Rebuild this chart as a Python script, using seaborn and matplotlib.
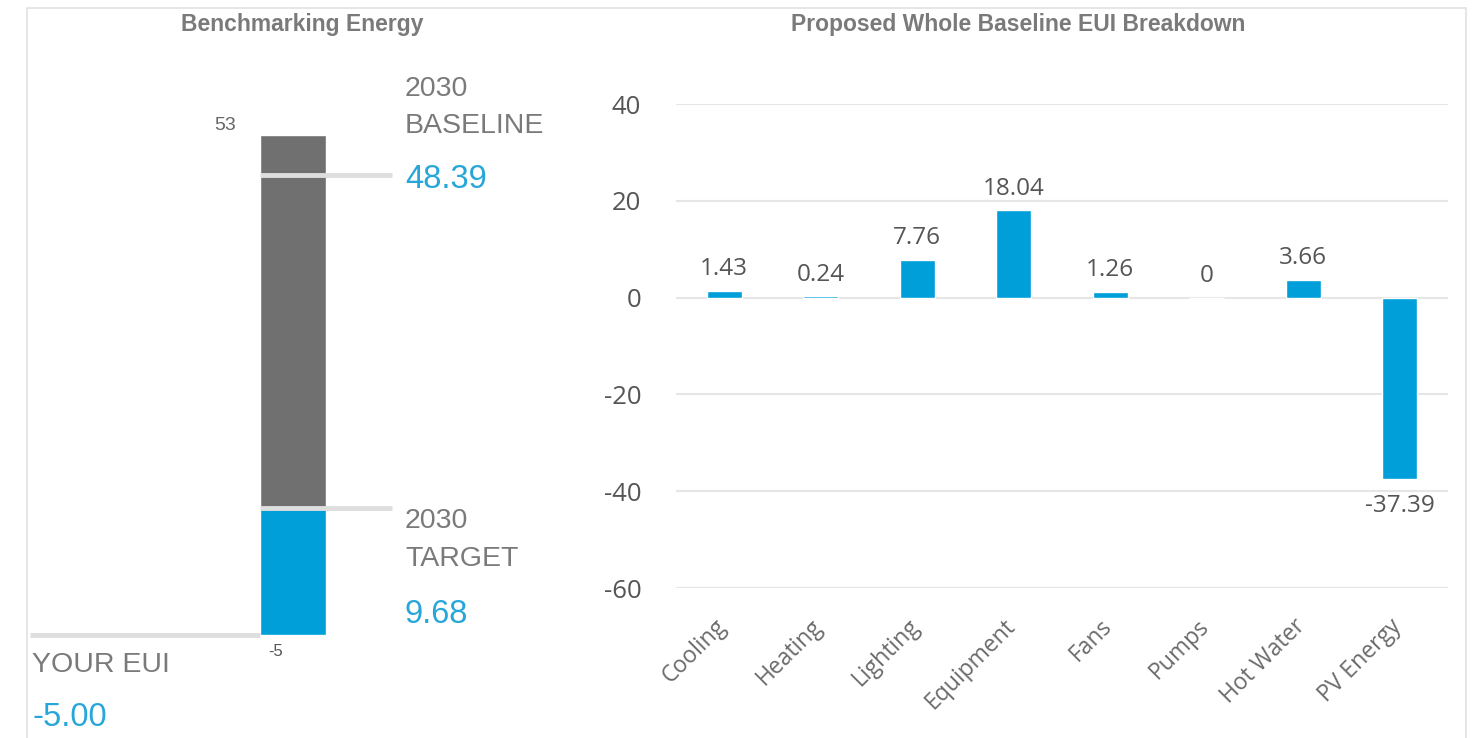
import matplotlib
matplotlib.use("Agg")
import matplotlib.pyplot as plt
import matplotlib.transforms as mtransforms
import seaborn as sns
import pandas as pd
from matplotlib.patches import Rectangle

sns.set_theme(style="white")
plt.rcParams['font.family'] = ['Open Sans', 'DejaVu Sans']
plt.rcParams['axes.unicode_minus'] = False

# ---------------- data ----------------
bench_bottom = -5
bench_top = 53
baseline = 48.39
target = 9.68
your_eui = -5.00

categories = ["Cooling", "Heating", "Lighting", "Equipment", "Fans", "Pumps", "Hot Water", "PV Energy"]
eui_values = [1.43, 0.24, 7.76, 18.04, 1.26, 0, 3.66, -37.39]
yticks_right = [-60, -40, -20, 0, 20, 40]

BLUE = "#009fda"
BLUE_TXT = "#27a6d9"
GREY_BAR = "#707070"
TXT = "#7a7a7a"
LINE = "#dedede"

W, H = 1480, 738
fig = plt.figure(figsize=(W / 100, H / 100), dpi=100)

# border frame
fig.patches.append(Rectangle((27 / W, -0.05), (1466 - 27) / W, 1.05 - 8 / H,
                             transform=fig.transFigure, fill=False,
                             edgecolor="#e2e2e2", lw=1.2))

def px(x0, y0, x1, y1):
    return [x0 / W, 1 - y1 / H, (x1 - x0) / W, (y1 - y0) / H]

# ---------------- left panel ----------------
bar_c, bar_w = 293, 66
ax1 = fig.add_axes(px(30, 135, 560, 635))
ax1.set_xlim(-(bar_c - 30) / bar_w, (560 - bar_c) / bar_w)
ax1.set_ylim(bench_bottom, bench_top)
ax1.axis("off")

ax1.bar([0], [target - bench_bottom], bottom=[bench_bottom], width=1, color=BLUE, zorder=2)
ax1.bar([0], [bench_top - target], bottom=[target], width=1, color=GREY_BAR, zorder=2)

line_end = (392 - bar_c) / bar_w
ax1.plot([-0.5, line_end], [baseline, baseline], color=LINE, lw=3.5, zorder=3,
         solid_capstyle="butt", clip_on=False)
ax1.plot([-0.5, line_end], [target, target], color=LINE, lw=3.5, zorder=3,
         solid_capstyle="butt", clip_on=False)
ax1.plot([ax1.get_xlim()[0], -0.5], [your_eui, your_eui], color=LINE, lw=3.5,
         zorder=3, solid_capstyle="butt", clip_on=False)

lab_x = (405 - bar_c) / bar_w
LF = ["Liberation Sans", "DejaVu Sans"]
big = 20.5
blue_sz = 23.5
def txt(x, y, dy_px, s, color, size=big, ha="left"):
    ax1.annotate(s, (x, y), xytext=(0, -dy_px * 0.72), textcoords="offset points",
                 ha=ha, va="center", color=color, fontsize=size, family=LF,
                 annotation_clip=False)

txt(lab_x, baseline, -86, "2030", TXT)
txt(lab_x, baseline, -49, "BASELINE", TXT)
txt(lab_x, baseline, 5, f"{baseline:.2f}", BLUE_TXT, size=blue_sz)
txt(lab_x, target, 13, "2030", TXT)
txt(lab_x, target, 51, "TARGET", TXT)
txt(lab_x, target, 106, f"{target:.2f}", BLUE_TXT, size=blue_sz)
left_x = ax1.get_xlim()[0] + 2 / bar_w
txt(left_x, your_eui, 30, "YOUR EUI", TXT)
txt(left_x, your_eui, 82, f"{your_eui:.2f}", BLUE_TXT, size=blue_sz)
txt(-0.86, bench_top, -10, f"{bench_top}", "#666666", size=14, ha="right")
txt(-0.26, bench_bottom, 17, f"{bench_bottom}", "#555555", size=12, ha="center")

fig.text(302 / W, 1 - 25 / H, "Benchmarking Energy", ha="center", va="center",
         fontsize=16.5, color="#7a7a7a", fontweight="bold", family=LF)

# ---------------- right panel ----------------
ax2 = fig.add_axes(px(676, 104, 1448, 588))
df = pd.DataFrame({"category": categories, "value": eui_values})
sns.barplot(data=df, x="category", y="value", color=BLUE, width=0.36,
            saturation=1, ax=ax2, zorder=3)
ax2.set_ylim(-60, 40)
ax2.set_xlim(-0.5, len(categories) - 0.5)
ax2.set_yticks(yticks_right)
ax2.yaxis.grid(True, color="#e6e6e6", lw=1.5)
ax2.set_axisbelow(True)
for s in ax2.spines.values():
    s.set_visible(False)
ax2.set_xlabel("")
ax2.set_ylabel("")
ax2.tick_params(axis="y", length=0, pad=25, labelsize=18.5, labelcolor="#555555")
ax2.tick_params(axis="x", length=0, pad=19, labelsize=16.5, labelcolor="#6a6a6a")
shift = mtransforms.ScaledTranslation(-10 / 100, 0, fig.dpi_scale_trans)
for lbl in ax2.get_xticklabels():
    lbl.set_rotation(45)
    lbl.set_ha("right")
    lbl.set_rotation_mode("anchor")
    lbl.set_transform(lbl.get_transform() + shift)

cont = ax2.containers[0]
pos_labels = [f"{v:g}" if v >= 0 else "" for v in eui_values]
neg_labels = [f"{v:g}" if v < 0 else "" for v in eui_values]
ax2.bar_label(cont, labels=pos_labels, padding=7, fontsize=17.5, color="#555555")
ax2.bar_label(cont, labels=neg_labels, padding=11, fontsize=17.5, color="#555555")

fig.text(1018 / W, 1 - 25 / H, "Proposed Whole Baseline EUI Breakdown", ha="center",
         va="center", fontsize=16.5, color="#7a7a7a", fontweight="bold", family=LF)

fig.savefig("out.png", dpi=100, facecolor="white")
